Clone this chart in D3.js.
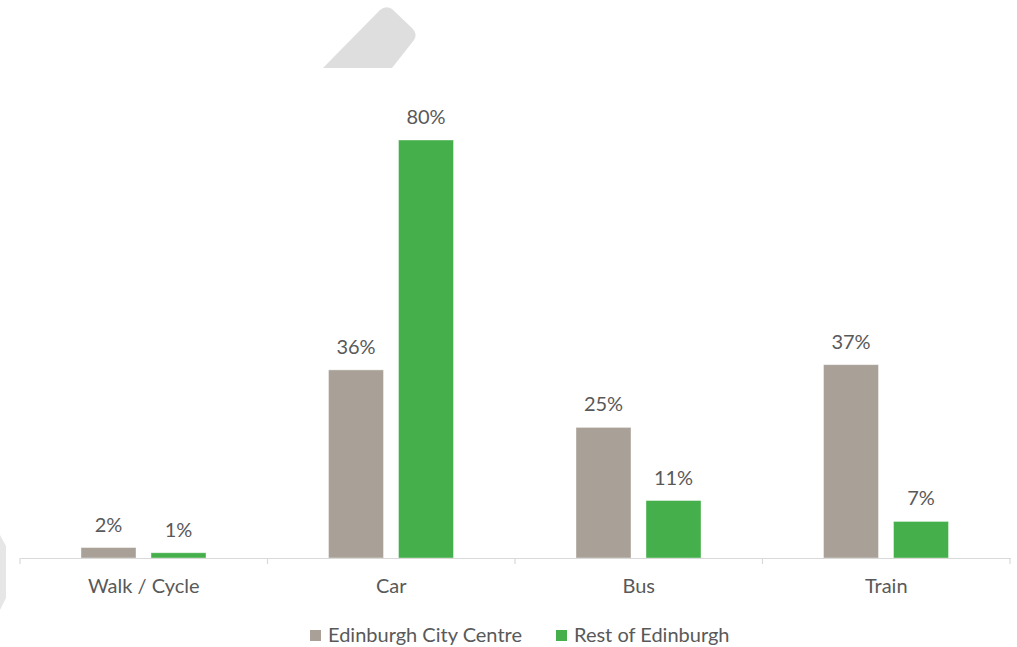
<!DOCTYPE html>
<html><head><meta charset="utf-8">
<script src="https://cdn.jsdelivr.net/npm/d3@7"></script>
<style>body{margin:0;background:#fff}svg{display:block}</style>
</head><body>
<svg id="c" width="1017" height="647"></svg>
<script>
const categories = ["Walk / Cycle", "Car", "Bus", "Train"];
const seriesNames = ["Edinburgh City Centre", "Rest of Edinburgh"];
const cityCentre = [2, 36, 25, 37];
const restOfEdinburgh = [1, 80, 11, 7];
const colors = ["#A9A097", "#45AF4B"];

const svg = d3.select("#c");
const font = "Lato, 'Open Sans', sans-serif";
const textColor = "#595959";
const fs = 20;

// decorative background shapes
svg.append("path").attr("d","M323,68 L380,10 Q386,5 392,9 L412,28 Q418,34 414,40 L392,68 Z").attr("fill","#DEDEDE");
svg.append("path").attr("d","M0,535 L6,546 L6,598 L0,610 Z").attr("fill","#E6E6E6");

const left = 20, right = 1010, base = 558;
const x = d3.scaleBand().domain(categories).range([left, right]).paddingInner(0).paddingOuter(0);
const sub = d3.scaleBand().domain(seriesNames).range([61, 186]).paddingInner(15/70).paddingOuter(0);
const y = d3.scaleLinear().domain([0, 80]).range([base, 140]);

const data = categories.map((c,i)=>({cat:c, vals:[cityCentre[i], restOfEdinburgh[i]]}));

const g = svg.append("g");
data.forEach(d=>{
  d.vals.forEach((v,j)=>{
    const bx = x(d.cat) + sub(seriesNames[j]);
    g.append("rect").attr("x", bx).attr("y", y(v)).attr("width", sub.bandwidth()).attr("height", base - y(v))
      .attr("fill", colors[j]).attr("stroke","#fff").attr("stroke-opacity",0.5).attr("stroke-width",0.8);
    g.append("text").attr("x", bx + sub.bandwidth()/2).attr("y", y(v) - 16)
      .attr("text-anchor","middle").attr("font-family",font).attr("font-size",fs).attr("fill",textColor).text(v + "%");
  });
});

// axis
const ax = svg.append("g").attr("transform",`translate(0,${base})`)
  .call(d3.axisBottom(x).tickSize(0).tickPadding(21));
ax.select(".domain").attr("stroke","#D9D9D9").attr("stroke-width",1.2);
ax.selectAll("text").attr("font-family",font).attr("font-size",fs).attr("fill",textColor);
const bounds = [left].concat(categories.map(c=>x(c)+x.bandwidth()));
ax.selectAll(".bt").data(bounds).enter().append("line").attr("class","bt")
  .attr("x1",d=>d).attr("x2",d=>d).attr("y1",0).attr("y2",6).attr("stroke","#D9D9D9").attr("stroke-width",1.2);

// legend
const legend = svg.append("g").attr("font-family",font).attr("font-size",fs).attr("fill",textColor);
const legX = [310, 556];
seriesNames.forEach((s,i)=>{
  legend.append("rect").attr("x",legX[i]).attr("y",630).attr("width",11).attr("height",11).attr("fill",colors[i]);
  legend.append("text").attr("x",legX[i]+18).attr("y",642).text(s);
});
</script>
</body></html>
